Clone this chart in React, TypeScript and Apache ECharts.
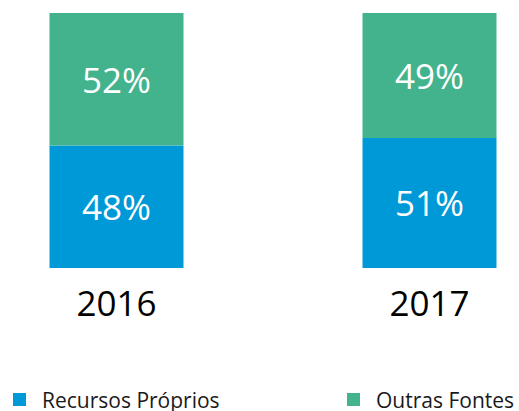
import React, { useEffect, useRef } from "react";
import * as echarts from "echarts";

const categories = ["2016", "2017"];
const recursosProprios = [48, 51];
const outrasFontes = [52, 49];
const seriesNames = ["Recursos Próprios", "Outras Fontes"];

const BLUE = "#0099d7";
const GREEN = "#42b38d";
const FONT = "'Open Sans', 'Noto Sans', sans-serif";

export default function App() {
  const ref = useRef<HTMLDivElement>(null);
  useEffect(() => {
    if (!ref.current) return;
    const chart = echarts.init(ref.current, null, { renderer: "svg" });
    const label = {
      show: true,
      position: "inside",
      color: "#ffffff",
      fontSize: 35,
      fontFamily: FONT,
      formatter: (p: any) => p.value + "%",
    };
    const legendBase = {
      top: 389,
      padding: 0,
      icon: "rect",
      itemWidth: 13,
      itemHeight: 13,
      itemGap: 0,
      textStyle: {
        color: "#1a1a1a",
        fontSize: 21,
        fontFamily: FONT,
        lineHeight: 20,
        padding: [0, 0, 0, 11],
      },
    };
    chart.setOption({
      animation: false,
      grid: {
        left: -40,
        width: 626,
        top: 13,
        bottom: 143,
        containLabel: false,
        outerBoundsMode: "none",
      },
      xAxis: {
        type: "category",
        data: categories,
        axisLine: { show: false },
        axisTick: { show: false },
        axisLabel: { color: "#000", fontSize: 35, fontFamily: FONT, margin: 17 },
      },
      yAxis: {
        type: "value",
        min: 0,
        max: 100,
        show: false,
        splitLine: { show: false },
      },
      legend: [
        { ...legendBase, data: [seriesNames[0]], left: 13 },
        { ...legendBase, data: [seriesNames[1]], left: 347 },
      ],
      series: [
        {
          name: seriesNames[0],
          type: "bar",
          stack: "total",
          barWidth: 134,
          data: recursosProprios,
          itemStyle: { color: BLUE },
          label,
        },
        {
          name: seriesNames[1],
          type: "bar",
          stack: "total",
          barWidth: 134,
          data: outrasFontes,
          itemStyle: { color: GREEN },
          label,
        },
      ],
    });
    return () => chart.dispose();
  }, []);
  return <div ref={ref} style={{ width: 519, height: 411, position: "absolute", left: 0, top: 0 }} />;
}
